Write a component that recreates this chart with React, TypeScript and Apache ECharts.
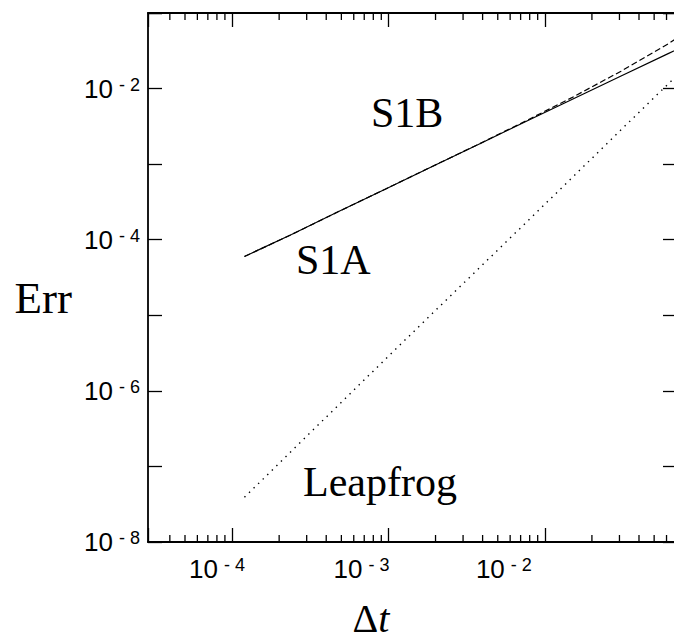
import React, { useEffect, useRef } from 'react';
import * as echarts from 'echarts';

// Time step values (Δt) at which errors were read
const DT = [1.2e-4, 2.4e-4, 4.8e-4, 9.6e-4, 1.92e-3, 3.84e-3, 7.68e-3, 1.536e-2, 3.072e-2, 6.144e-2, 1.2288e-1];
// S1A (solid)
const S1A_ERR = [6.0e-5, 1.17e-4, 2.36e-4, 4.7e-4, 9.4e-4, 1.86e-3, 3.72e-3, 7.4e-3, 1.47e-2, 2.9e-2, 5.6e-2];
// S1B (dashed)
const S1B_ERR = [6.0e-5, 1.17e-4, 2.36e-4, 4.7e-4, 9.4e-4, 1.87e-3, 3.8e-3, 7.85e-3, 1.7e-2, 3.9e-2, 1.0e-1];
// Leapfrog (dotted)
const LEAPFROG_ERR = [3.9e-8, 1.6e-7, 6.5e-7, 2.65e-6, 1.07e-5, 4.3e-5, 1.73e-4, 7.0e-4, 2.85e-3, 1.15e-2, 4.6e-2];

// Axis ranges
const X_MIN = 2.9e-5;
const X_MAX = 0.07;
const Y_MIN = 1e-8;
const Y_MAX = 1e-1;

// Minor tick positions on the Δt axis
const X_MINOR_TICKS = [
  4e-5, 5e-5, 6e-5, 7e-5, 8e-5, 9e-5,
  2e-4, 3e-4, 4e-4, 5e-4, 6e-4, 7e-4, 8e-4, 9e-4,
  2e-3, 3e-3, 4e-3, 5e-3, 6e-3, 7e-3, 8e-3, 9e-3,
  2e-2, 3e-2, 4e-2, 5e-2, 6e-2,
];
// Labelled exponents
const X_LABEL_EXPONENTS = [-4, -3, -2];
const Y_LABEL_EXPONENTS = [-2, -4, -6, -8];

const SANS = '"Liberation Sans", Arial, Helvetica, sans-serif';
const SERIF = '"Liberation Serif", "Times New Roman", serif';

function exponentOf(v: number): number | null {
  const e = Math.log10(v);
  const r = Math.round(e);
  return Math.abs(e - r) < 1e-6 ? r : null;
}

const labelRich = {
  b: { fontSize: 26, fontFamily: SANS, color: '#000', lineHeight: 26, verticalAlign: 'bottom', padding: [9, 0, 0, 0] },
  s: { fontSize: 18, fontFamily: SANS, color: '#000', lineHeight: 18, verticalAlign: 'top', padding: [0, 0, 0, 6] },
  g4: { width: 30 },
  g3: { width: 54 },
  g2: { width: 82 },
};

export default function App() {
  const ref = useRef<HTMLDivElement>(null);

  useEffect(() => {
    if (!ref.current) return;
    const chart = echarts.init(ref.current, null, { renderer: 'svg' });

    const tickStyle = { color: '#000', width: 1.3 };
    const lineStyle = { color: '#000', width: 1.8 };
    const textBase = { fontSize: 42, fontFamily: SERIF, fill: '#000', lineHeight: 42, verticalAlign: 'top', textVerticalAlign: 'top' };

    const option: any = {
      animation: false,
      backgroundColor: '#fff',
      grid: { left: 148, top: 13, right: 3, bottom: 99, containLabel: false, outerBoundsMode: 'none' },
      xAxis: [
        {
          type: 'log',
          position: 'bottom',
          min: X_MIN,
          max: X_MAX,
          logBase: 10,
          splitLine: { show: false },
          axisLine: { show: true, lineStyle },
          axisTick: { show: true, inside: true, length: 14, lineStyle: tickStyle },
          axisLabel: {
            show: true,
            margin: 14,
            formatter: (v: number) => {
              const r = exponentOf(v);
              if (r === null || X_LABEL_EXPONENTS.indexOf(r) < 0) return '';
              return `{b|10}{s|- ${-r}}{g${-r}|}`;
            },
            rich: labelRich,
          },
          name: '{d|Δ}{t|t}',
          nameLocation: 'middle',
          nameGap: 62,
          nameTextStyle: {
            padding: [0, 83, 0, 0],
            rich: {
              d: { fontSize: 40, fontFamily: SERIF, color: '#000', lineHeight: 28 },
              t: { fontSize: 40, fontFamily: SERIF, fontStyle: 'italic', color: '#000', lineHeight: 28 },
            },
          },
        },
        {
          type: 'log',
          position: 'top',
          min: X_MIN,
          max: X_MAX,
          logBase: 10,
          splitLine: { show: false },
          axisLine: { show: true, lineStyle },
          axisTick: { show: true, inside: true, length: 14, lineStyle: tickStyle },
          axisLabel: { show: false },
        },
      ],
      yAxis: [
        {
          type: 'log',
          position: 'left',
          min: Y_MIN,
          max: Y_MAX,
          logBase: 10,
          splitLine: { show: false },
          axisLine: { show: true, lineStyle },
          axisTick: { show: true, inside: true, length: 14, lineStyle: tickStyle },
          axisLabel: {
            show: true,
            margin: 8,
            formatter: (v: number) => {
              const r = exponentOf(v);
              if (r === null || Y_LABEL_EXPONENTS.indexOf(r) < 0) return '';
              return `{b|10}{s|- ${-r}}`;
            },
            rich: labelRich,
          },
          name: '{e|Err}',
          nameLocation: 'middle',
          nameRotate: 0,
          nameGap: 76,
          nameTextStyle: {
            rich: {
              e: { fontSize: 45, fontFamily: SERIF, color: '#000', lineHeight: 45, padding: [41, 0, 0, 0] },
            },
          },
        },
        {
          type: 'log',
          position: 'right',
          min: Y_MIN,
          max: Y_MAX,
          logBase: 10,
          splitLine: { show: false },
          axisLine: { show: true, lineStyle },
          axisTick: { show: true, inside: true, length: 14, lineStyle: tickStyle },
          axisLabel: { show: false },
        },
      ],
      series: [
        {
          name: 'S1A',
          type: 'line',
          xAxisIndex: 0,
          yAxisIndex: 0,
          data: DT.map((d, i) => [d, S1A_ERR[i]]),
          showSymbol: false,
          symbol: 'none',
          lineStyle: { color: '#000', width: 1.2, type: 'solid' },
          silent: true,
        },
        {
          name: 'S1B',
          type: 'line',
          xAxisIndex: 0,
          yAxisIndex: 0,
          data: DT.map((d, i) => [d, S1B_ERR[i]]),
          showSymbol: false,
          symbol: 'none',
          lineStyle: { color: '#000', width: 1.2, type: [6, 3] },
          silent: true,
        },
        {
          name: 'Leapfrog',
          type: 'line',
          xAxisIndex: 0,
          yAxisIndex: 0,
          data: DT.map((d, i) => [d, LEAPFROG_ERR[i]]),
          showSymbol: false,
          symbol: 'none',
          lineStyle: { color: '#000', width: 1.4, type: [1.4, 5] },
          silent: true,
        },
        {
          name: 'minorTicks',
          type: 'custom',
          xAxisIndex: 0,
          yAxisIndex: 0,
          silent: true,
          clip: false,
          data: X_MINOR_TICKS.map((v) => [v, Y_MIN]),
          renderItem: (_params: any, api: any) => {
            const x = api.value(0);
            const pb = api.coord([x, Y_MIN]);
            const pt = api.coord([x, Y_MAX]);
            const st = { stroke: '#000', lineWidth: 1.3 };
            return {
              type: 'group',
              children: [
                { type: 'line', shape: { x1: pb[0], y1: pb[1], x2: pb[0], y2: pb[1] - 7 }, style: st },
                { type: 'line', shape: { x1: pt[0], y1: pt[1], x2: pt[0], y2: pt[1] + 7 }, style: st },
              ],
            };
          },
        },
      ],
      graphic: [
        { type: 'text', x: 371, y: 92, style: { ...textBase, text: 'S1B' } },
        { type: 'text', x: 296, y: 239, style: { ...textBase, text: 'S1A' } },
        { type: 'text', x: 303, y: 461, style: { ...textBase, text: 'Leapfrog' } },
      ],
    };

    chart.setOption(option);
    return () => {
      chart.dispose();
    };
  }, []);

  return (
    <div style={{ position: 'fixed', left: 0, top: 0, width: 674, height: 641, overflow: 'hidden', background: '#fff' }}>
      <div ref={ref} style={{ width: 680, height: 641 }} />
    </div>
  );
}
